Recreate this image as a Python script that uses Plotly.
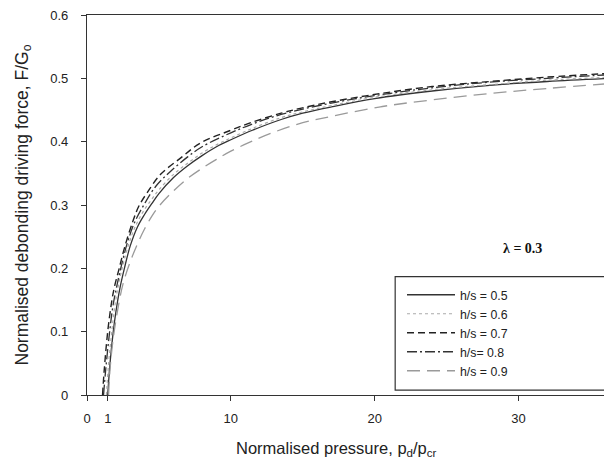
import plotly.graph_objects as go

# curves: F/G0 against p_d/p_cr for each h/s
x_05 = [1.44, 1.6, 1.8, 2.0, 2.3, 2.6, 3.0, 3.5, 4.0, 4.5, 5.0, 6.0, 7.0, 8.0, 9.0, 10, 11.5, 13.5, 15, 17, 20, 24, 28, 32, 36.5]
y_05 = [0, 0.05, 0.095, 0.13, 0.17, 0.2, 0.235, 0.265, 0.285, 0.302, 0.318, 0.343, 0.362, 0.378, 0.392, 0.403, 0.418, 0.435, 0.445, 0.455, 0.468, 0.48, 0.489, 0.495, 0.50]

x_06 = [1.35, 1.5, 1.7, 1.9, 2.2, 2.5, 2.9, 3.4, 4.0, 4.5, 5.0, 6.0, 7.0, 8.0, 9.0, 10, 11.5, 13.5, 15, 17, 20, 24, 28, 32, 36.5]
y_06 = [0, 0.05, 0.095, 0.135, 0.175, 0.205, 0.238, 0.268, 0.293, 0.309, 0.324, 0.348, 0.366, 0.382, 0.395, 0.406, 0.421, 0.438, 0.447, 0.457, 0.47, 0.482, 0.49, 0.497, 0.502]

x_07 = [1.08, 1.2, 1.44, 1.7, 1.9, 2.24, 2.6, 3.17, 3.6, 4.2, 5.1, 6.5, 7.9, 10, 11.4, 13.5, 14.9, 17, 20.4, 24, 28, 32, 36.5]
y_07 = [0, 0.04, 0.10, 0.145, 0.17, 0.2, 0.232, 0.273, 0.298, 0.32, 0.348, 0.374, 0.398, 0.418, 0.43, 0.445, 0.453, 0.463, 0.476, 0.487, 0.495, 0.502, 0.508]

x_08 = [1.15, 1.3, 1.55, 1.8, 2.1, 2.4, 2.8, 3.3, 4, 4.8, 5.8, 7, 8, 10, 11.4, 13.5, 17, 20.4, 24, 28, 32, 36.5]
y_08 = [0, 0.04, 0.095, 0.14, 0.175, 0.205, 0.24, 0.272, 0.302, 0.33, 0.353, 0.376, 0.392, 0.414, 0.427, 0.443, 0.461, 0.474, 0.485, 0.494, 0.5, 0.506]

x_09 = [1.5, 1.6, 1.8, 2.1, 2.5, 3.0, 3.5, 4.0, 4.5, 5.0, 6.0, 7.0, 8.0, 9.0, 10, 11.4, 13, 15, 17, 20.4, 24, 28, 32, 36.5]
y_09 = [0, 0.04, 0.085, 0.13, 0.175, 0.21, 0.238, 0.262, 0.282, 0.298, 0.322, 0.342, 0.358, 0.372, 0.385, 0.4, 0.415, 0.43, 0.44, 0.455, 0.466, 0.476, 0.484, 0.492]

names = ['h/s = 0.5', 'h/s = 0.6', 'h/s = 0.7', 'h/s= 0.8', 'h/s = 0.9']
xs = [x_05, x_06, x_07, x_08, x_09]
ys = [y_05, y_06, y_07, y_08, y_09]

x_ticks = [0, 1.45, 10, 20, 30]
x_ticktext = ['0', '1', '10', '20', '30']
y_ticks = [0, 0.1, 0.2, 0.3, 0.4, 0.5, 0.6]
y_ticktext = ['0', '0.1', '0.2', '0.3', '0.4', '0.5', '0.6']

styles = [
    dict(color='#333333', width=1.3, dash='solid'),
    dict(color='#aaaaaa', width=1.2, dash='dot'),
    dict(color='#222222', width=1.4, dash='7px,4px'),
    dict(color='#333333', width=1.3, dash='10px,3px,2px,3px'),
    dict(color='#9a9a9a', width=1.3, dash='13px,7px'),
]

fig = go.Figure()
for name, x, y, st in zip(names, xs, ys, styles):
    fig.add_trace(go.Scatter(x=x, y=y, name=name, mode='lines', line=st, line_shape='spline'))

# page body has an 8px margin, so the figure is 8px smaller and margins shifted
fig.update_layout(
    width=604, height=452,
    margin=dict(l=79, r=0, t=5, b=65),
    plot_bgcolor='white', paper_bgcolor='white',
    font=dict(family='Arial, Liberation Sans', size=13, color='#222222'),
    showlegend=True,
    legend=dict(x=0.6, y=0.302, xanchor='left', yanchor='top',
                bgcolor='rgba(0,0,0,0)', borderwidth=0, itemwidth=48,
                font=dict(size=12.3, color='#222222'), tracegroupgap=0),
    xaxis=dict(range=[0, 36.5], tickvals=x_ticks, ticktext=x_ticktext,
               showline=True, linecolor='#333333', linewidth=1.2, mirror=True,
               ticks='outside', ticklen=5, tickcolor='#333333',
               showgrid=False, zeroline=False, ticklabelstandoff=6),
    yaxis=dict(range=[0, 0.6], tickvals=y_ticks, ticktext=y_ticktext,
               showline=True, linecolor='#333333', linewidth=1.2,
               ticks='outside', ticklen=5, tickcolor='#333333',
               showgrid=False, zeroline=False, ticklabelstandoff=10,
               ticklabeloverflow='allow',
               title=dict(text='Normalised debonding driving force, F/G<sub>o</sub>',
                          font=dict(size=17.5), standoff=17)),
    shapes=[dict(type='rect', xref='paper', yref='paper',
                 x0=0.587, x1=1.05, y0=0.013, y1=0.3115,
                 line=dict(color='#333333', width=1.2))],
    annotations=[
        dict(text='Normalised pressure, p<sub>d</sub>/p<sub>cr</sub>', xref='paper', yref='paper',
             x=0.476, y=-0.11, xanchor='center', yanchor='top', showarrow=False,
             font=dict(size=16.5)),
        dict(text='<b>λ = 0.3</b>', xref='x', yref='y', x=30.3, y=0.231,
             showarrow=False, font=dict(family='Liberation Serif, Times New Roman', size=14, color='#111111')),
    ],
)

fig.write_html('out.html')
